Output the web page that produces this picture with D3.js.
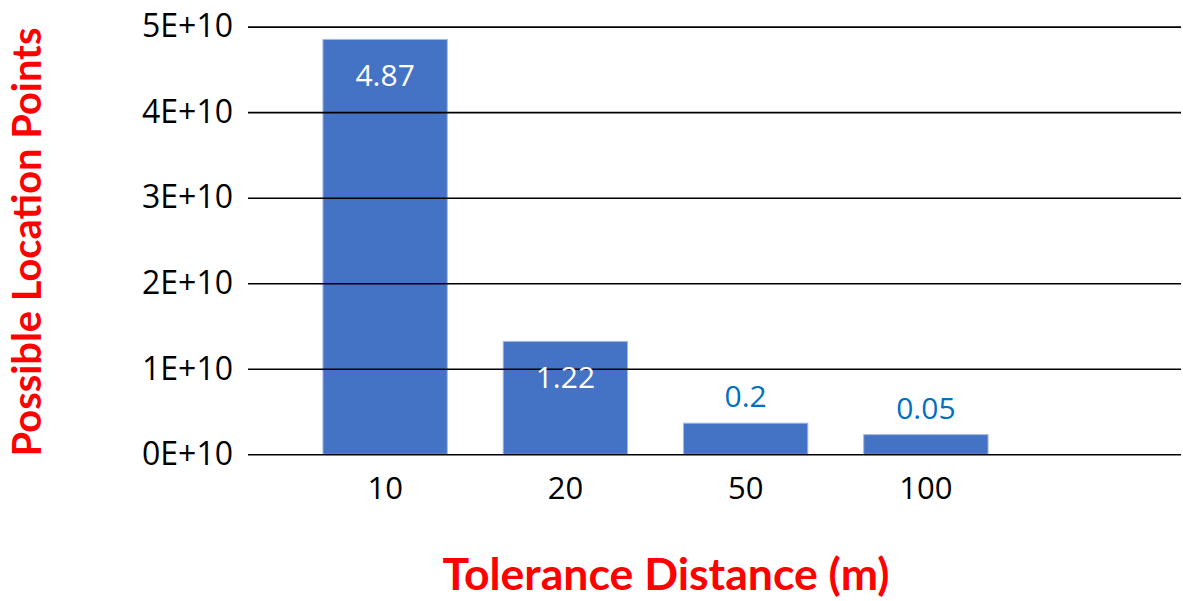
<!DOCTYPE html>
<html><head><meta charset="utf-8">
<script src="https://cdn.jsdelivr.net/npm/d3@7"></script>
<style>body{margin:0;background:#fff} svg{display:block}</style>
</head><body><svg id="c" width="1183" height="601"></svg>
<script>
const categories = ["10", "20", "50", "100"];
const values = [4.85e10, 1.32e10, 0.364e10, 0.23e10];
const valueLabels = ["4.87", "1.22", "0.2", "0.05"];
const yTickValues = [0, 1e10, 2e10, 3e10, 4e10, 5e10];
const yTickLabels = ["0E+10", "1E+10", "2E+10", "3E+10", "4E+10", "5E+10"];
const xTitle = "Tolerance Distance (m)";
const yTitle = "Possible Location Points";

const svg = d3.select("#c");
const font = "'Open Sans', sans-serif";
const titleFont = "Lato, 'Open Sans', sans-serif";

const x = d3.scaleBand().domain(categories).range([295, 1016]).paddingInner(0.31).paddingOuter(0.155);
const y = d3.scaleLinear().domain([0, 5e10]).range([454.3, 26.6]);

// bars
svg.append("g").selectAll("rect").data(values).join("rect")
  .attr("x", (d, i) => x(categories[i])).attr("width", x.bandwidth())
  .attr("y", d => y(d)).attr("height", d => y(0) - y(d))
  .attr("fill", "#4472C4").attr("stroke", "#A9B9DA").attr("stroke-width", 1);

// y axis with gridlines
const gridLeft = 248, gridRight = 1181;
const yAxis = d3.axisLeft(y).tickValues(yTickValues).tickFormat((d, i) => yTickLabels[i])
  .tickSize(-(gridRight - gridLeft)).tickPadding(15);
const gy = svg.append("g").attr("transform", `translate(${gridLeft},0)`).call(yAxis);
gy.select(".domain").remove();
gy.selectAll(".tick line").attr("stroke", "#000").attr("stroke-width", 1.6);
gy.selectAll(".tick text").attr("font-family", font).attr("font-size", 32).attr("fill", "#000");

// x axis labels
const xAxis = d3.axisBottom(x).tickSize(0).tickPadding(23);
const gx = svg.append("g").attr("transform", `translate(0,${y(0)})`).call(xAxis);
gx.select(".domain").remove();
gx.selectAll(".tick text").attr("font-family", font).attr("font-size", 31).attr("fill", "#000");

// value labels
svg.append("g").selectAll("text").data(values).join("text")
  .attr("x", (d, i) => x(categories[i]) + x.bandwidth() / 2)
  .attr("y", d => d > 1e10 ? y(d) + 47 : y(d) - 16)
  .attr("text-anchor", "middle")
  .attr("fill", d => d > 1e10 ? "#fff" : "#0070C0")
  .attr("font-family", font).attr("font-size", 30)
  .text((d, i) => valueLabels[i]);

function fit(sel, target) {
  sel.attr("font-size", 100);
  const len = sel.node().getComputedTextLength();
  sel.attr("font-size", 100 * target / len);
}

// x title
const xt = svg.append("text").attr("x", 666).attr("y", 590).attr("text-anchor", "middle")
  .attr("font-family", titleFont).attr("font-weight", "bold").attr("fill", "#FF0000").text(xTitle);
fit(xt, 447);

// y title
const yt = svg.append("text").attr("transform", "translate(41,242) rotate(-90)").attr("text-anchor", "middle")
  .attr("font-family", titleFont).attr("font-weight", "bold").attr("fill", "#FF0000").text(yTitle);
fit(yt, 429);
</script></body></html>
